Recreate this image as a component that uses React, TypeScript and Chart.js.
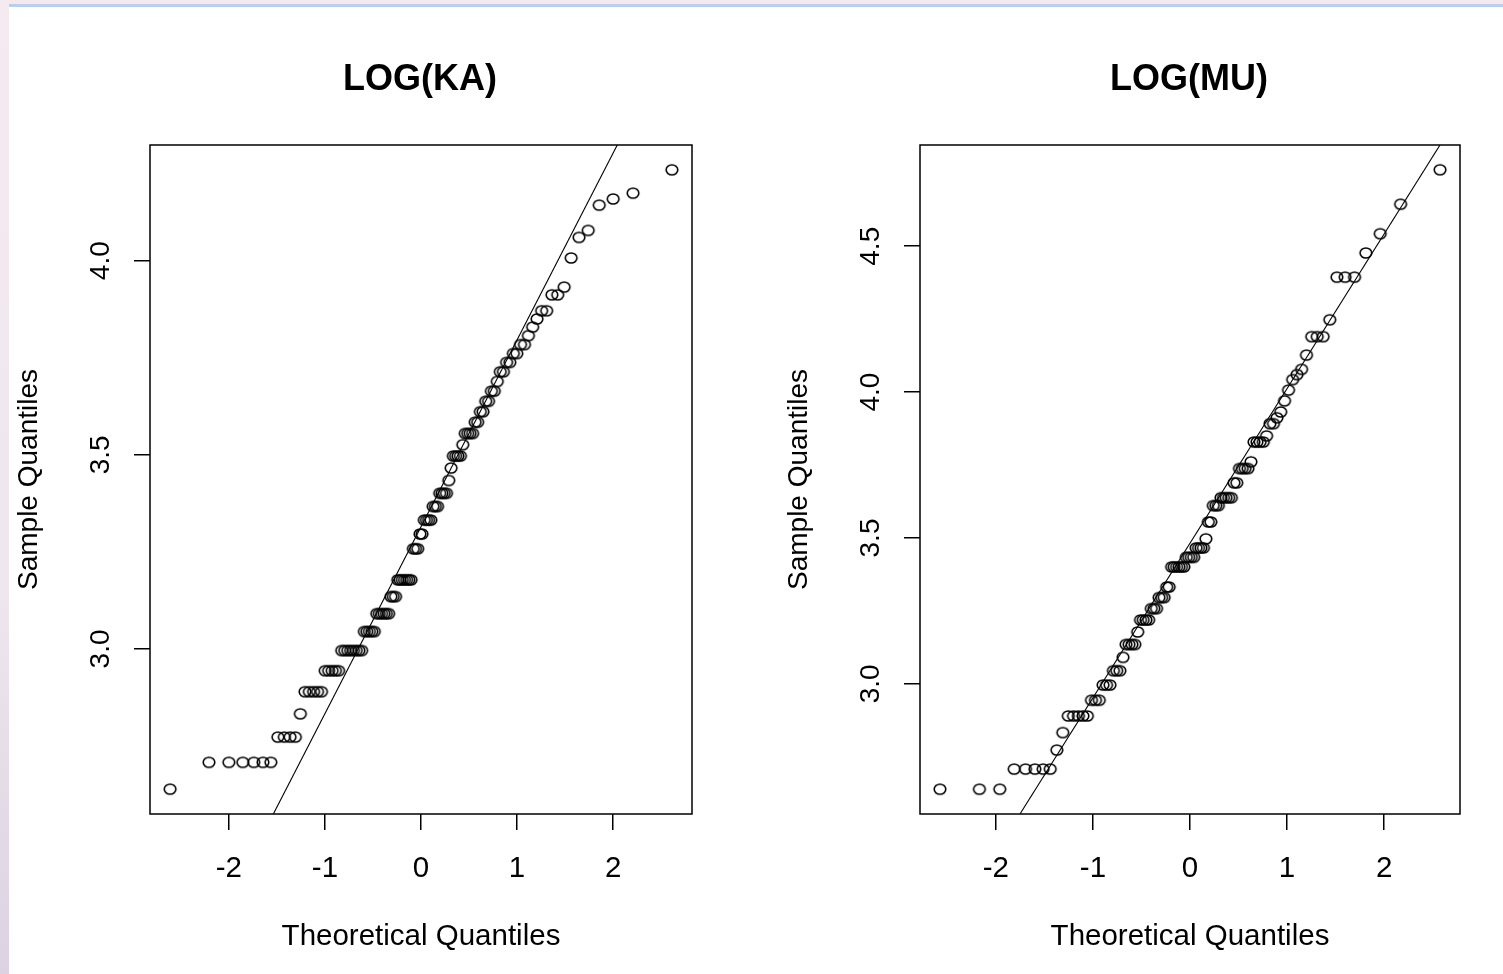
import { useEffect, useRef } from "react";
import { Chart, registerables } from "chart.js";

Chart.register(...registerables);

// ---------- LOG(KA) : normal QQ plot, n = 110 ----------
const kaTheoretical = [
  -2.612, -2.207, -2.0, -1.855, -1.741, -1.645, -1.563, -1.49, -1.423, -1.363,
  -1.308, -1.256, -1.208, -1.162, -1.118, -1.077, -1.036, -0.998, -0.961, -0.925,
  -0.891, -0.858, -0.825, -0.794, -0.763, -0.733, -0.703, -0.674, -0.646, -0.618,
  -0.59, -0.564, -0.537, -0.511, -0.486, -0.46, -0.435, -0.41, -0.385, -0.361,
  -0.337, -0.313, -0.289, -0.265, -0.242, -0.218, -0.195, -0.172, -0.149, -0.126,
  -0.103, -0.08, -0.057, -0.034, -0.011, 0.011, 0.034, 0.057, 0.08, 0.103,
  0.126, 0.149, 0.172, 0.195, 0.218, 0.242, 0.265, 0.289, 0.313, 0.337,
  0.361, 0.385, 0.41, 0.435, 0.46, 0.486, 0.511, 0.537, 0.564, 0.59,
  0.618, 0.646, 0.674, 0.703, 0.733, 0.763, 0.794, 0.825, 0.858, 0.891,
  0.925, 0.961, 0.998, 1.036, 1.077, 1.118, 1.162, 1.208, 1.256, 1.308,
  1.363, 1.423, 1.49, 1.563, 1.645, 1.741, 1.855, 2.0, 2.207, 2.612,
];
const kaSample = [
  2.639,
  2.708, 2.708, 2.708, 2.708, 2.708, 2.708,
  2.773, 2.773, 2.773, 2.773,
  2.833,
  2.89, 2.89, 2.89, 2.89, 2.89,
  2.944, 2.944, 2.944, 2.944, 2.944,
  2.996, 2.996, 2.996, 2.996, 2.996, 2.996, 2.996, 2.996,
  3.045, 3.045, 3.045, 3.045, 3.045,
  3.091, 3.091, 3.091, 3.091, 3.091, 3.091,
  3.135, 3.135, 3.135,
  3.178, 3.178, 3.178, 3.178, 3.178, 3.178, 3.178,
  3.258, 3.258, 3.258,
  3.296, 3.296,
  3.332, 3.332, 3.332, 3.332,
  3.367, 3.367, 3.367,
  3.401, 3.401, 3.401, 3.401,
  3.434,
  3.466,
  3.497, 3.497, 3.497, 3.497,
  3.526,
  3.555, 3.555, 3.555, 3.555,
  3.584, 3.584,
  3.611, 3.611,
  3.638, 3.638,
  3.664, 3.664,
  3.689,
  3.714, 3.714,
  3.738, 3.738,
  3.761, 3.761,
  3.784, 3.784,
  3.807,
  3.829,
  3.85,
  3.871, 3.871,
  3.912, 3.912,
  3.932,
  4.007, 4.06, 4.078, 4.143, 4.159, 4.174, 4.234,
];
// reference line: where it crosses the bottom and top of the box
const kaLineX = [-1.537, 2.043];
const kaLineY = [2.575, 4.298];
const kaXRange = [-2.821, 2.821];
const kaYRange = [2.575, 4.298];
const kaXTicks = [-2, -1, 0, 1, 2];
const kaYTicks = [3.0, 3.5, 4.0];

// ---------- LOG(MU) : normal QQ plot, n = 100 ----------
const muTheoretical = [
  -2.576, -2.17, -1.96, -1.812, -1.695, -1.598, -1.514, -1.44, -1.372, -1.311,
  -1.254, -1.2, -1.15, -1.103, -1.058, -1.015, -0.974, -0.935, -0.896, -0.86,
  -0.824, -0.789, -0.755, -0.722, -0.69, -0.659, -0.628, -0.598, -0.568, -0.539,
  -0.51, -0.482, -0.454, -0.426, -0.399, -0.372, -0.345, -0.319, -0.292, -0.266,
  -0.24, -0.215, -0.189, -0.164, -0.138, -0.113, -0.088, -0.063, -0.038, -0.013,
  0.013, 0.038, 0.063, 0.088, 0.113, 0.138, 0.164, 0.189, 0.215, 0.24,
  0.266, 0.292, 0.319, 0.345, 0.372, 0.399, 0.426, 0.454, 0.482, 0.51,
  0.539, 0.568, 0.598, 0.628, 0.659, 0.69, 0.722, 0.755, 0.789, 0.824,
  0.86, 0.896, 0.935, 0.974, 1.015, 1.058, 1.103, 1.15, 1.2, 1.254,
  1.311, 1.372, 1.44, 1.514, 1.598, 1.695, 1.812, 1.96, 2.17, 2.576,
];
const muSample = [
  2.639, 2.639, 2.639,
  2.708, 2.708, 2.708, 2.708, 2.708,
  2.773,
  2.833,
  2.89, 2.89, 2.89, 2.89, 2.89,
  2.944, 2.944, 2.944,
  2.996, 2.996, 2.996,
  3.045, 3.045, 3.045,
  3.091,
  3.135, 3.135, 3.135, 3.135,
  3.178,
  3.219, 3.219, 3.219, 3.219,
  3.258, 3.258, 3.258,
  3.296, 3.296, 3.296,
  3.332, 3.332,
  3.401, 3.401, 3.401, 3.401, 3.401, 3.401,
  3.434, 3.434, 3.434, 3.434,
  3.466, 3.466, 3.466, 3.466,
  3.497,
  3.555, 3.555,
  3.611, 3.611, 3.611,
  3.638, 3.638, 3.638, 3.638, 3.638,
  3.689, 3.689,
  3.738, 3.738, 3.738, 3.738,
  3.761,
  3.829, 3.829, 3.829, 3.829,
  3.85,
  3.892, 3.892,
  3.912,
  3.932,
  3.97,
  4.007,
  4.043,
  4.06,
  4.078,
  4.127,
  4.19, 4.19, 4.19,
  4.248,
  4.394, 4.394, 4.394,
  4.477,
  4.543,
  4.644,
  4.762,
];
const muLineX = [-1.752, 2.576];
const muLineY = [2.554, 4.847];
const muXRange = [-2.782, 2.782];
const muYRange = [2.554, 4.847];
const muXTicks = [-2, -1, 0, 1, 2];
const muYTicks = [3.0, 3.5, 4.0, 4.5];

const FONT = '"Liberation Sans", Arial, Helvetica, sans-serif';

// open circle marker, slightly wider than tall like the reference
function makeMarker(): HTMLCanvasElement {
  const c = document.createElement("canvas");
  c.width = 16;
  c.height = 14;
  const g = c.getContext("2d")!;
  g.strokeStyle = "#000";
  g.lineWidth = 1.6;
  g.beginPath();
  g.ellipse(8, 7, 5.8, 5.0, 0, 0, Math.PI * 2);
  g.stroke();
  return c;
}

const rPlotPlugin = {
  id: "rplot",
  afterDraw(chart: any, _args: any, opts: any) {
    const { ctx, chartArea: a, scales } = chart;
    ctx.save();
    ctx.strokeStyle = "#000";
    ctx.lineWidth = 1.5;
    ctx.strokeRect(a.left, a.top, a.right - a.left, a.bottom - a.top);
    ctx.fillStyle = "#000";
    ctx.textAlign = "center";
    ctx.textBaseline = "middle";
    const cx = (a.left + a.right) / 2;
    const cy = (a.top + a.bottom) / 2;
    ctx.font = `bold 36px ${FONT}`;
    ctx.fillText(opts.title, cx - 1, a.top - 65);
    ctx.font = `29.5px ${FONT}`;
    (opts.xTicks as number[]).forEach((v) => {
      ctx.fillText(String(v), scales.x.getPixelForValue(v), a.bottom + 55);
    });
    ctx.fillText("Theoretical Quantiles", cx, a.bottom + 123);
    ctx.font = `28px ${FONT}`;
    (opts.yTicks as number[]).forEach((v) => {
      const y = scales.y.getPixelForValue(v);
      ctx.save();
      ctx.translate(a.left - 49, y);
      ctx.rotate(-Math.PI / 2);
      ctx.fillText(v.toFixed(1), 0, 0);
      ctx.restore();
    });
    ctx.save();
    ctx.translate(a.left - 121, cy);
    ctx.rotate(-Math.PI / 2);
    ctx.fillText("Sample Quantiles", 0, 0);
    ctx.restore();
    ctx.restore();
  },
};

type PanelProps = {
  title: string;
  tq: number[];
  sq: number[];
  lineX: number[];
  lineY: number[];
  xRange: number[];
  yRange: number[];
  xTicks: number[];
  yTicks: number[];
  width: number;
  padRight: number;
  left: number;
};

function QQPanel(p: PanelProps) {
  const ref = useRef<HTMLCanvasElement | null>(null);
  useEffect(() => {
    if (!ref.current) return;
    const marker = makeMarker();
    const pts = p.tq.map((x, i) => ({ x, y: p.sq[i] }));
    const linePts = p.lineX.map((x, i) => ({ x, y: p.lineY[i] }));
    const chart = new Chart(ref.current, {
      type: "scatter",
      data: {
        datasets: [
          {
            data: linePts,
            showLine: true,
            borderColor: "#000",
            borderWidth: 1.1,
            pointRadius: 0,
            fill: false,
          } as any,
          {
            data: pts,
            pointStyle: marker,
            pointRadius: 6,
            showLine: false,
          } as any,
        ],
      },
      options: {
        animation: false,
        responsive: false,
        devicePixelRatio: 1,
        layout: { padding: { left: 0, top: 145, right: p.padRight, bottom: 0 } },
        plugins: {
          legend: { display: false },
          tooltip: { enabled: false },
          rplot: { title: p.title, xTicks: p.xTicks, yTicks: p.yTicks },
        } as any,
        scales: {
          x: {
            type: "linear",
            min: p.xRange[0],
            max: p.xRange[1],
            afterBuildTicks: (s: any) => {
              s.ticks = p.xTicks.map((v) => ({ value: v }));
            },
            afterFit: (s: any) => {
              s.height = 160;
            },
            ticks: { display: false },
            grid: {
              drawOnChartArea: false,
              drawTicks: true,
              tickLength: 16,
              color: "#000",
              lineWidth: 1.5,
            },
            border: { display: false },
          },
          y: {
            type: "linear",
            min: p.yRange[0],
            max: p.yRange[1],
            afterBuildTicks: (s: any) => {
              s.ticks = p.yTicks.map((v) => ({ value: v }));
            },
            afterFit: (s: any) => {
              s.width = 150;
            },
            ticks: { display: false },
            grid: {
              drawOnChartArea: false,
              drawTicks: true,
              tickLength: 16,
              color: "#000",
              lineWidth: 1.5,
            },
            border: { display: false },
          },
        },
      },
      plugins: [rPlotPlugin],
    });
    return () => chart.destroy();
  }, []);
  return (
    <canvas
      ref={ref}
      width={p.width}
      height={974}
      style={{ position: "absolute", left: p.left, top: 0, width: p.width, height: 974 }}
    />
  );
}

export default function App() {
  return (
    <div
      style={{
        position: "absolute",
        left: 0,
        top: 0,
        width: 1503,
        height: 974,
        overflow: "hidden",
        background: "#ffffff",
      }}
    >
      <div style={{ position: "absolute", left: 0, top: 0, width: 1503, height: 4, background: "#f4e9ee" }} />
      <div style={{ position: "absolute", left: 9, top: 4, width: 1494, height: 3, background: "#b9cff0" }} />
      <div
        style={{
          position: "absolute",
          left: 0,
          top: 0,
          width: 9,
          height: 974,
          background: "linear-gradient(to bottom, #f5eaef 0%, #efe6ee 60%, #dcd2e2 100%)",
        }}
      />
      <QQPanel
        title="LOG(KA)"
        tq={kaTheoretical}
        sq={kaSample}
        lineX={kaLineX}
        lineY={kaLineY}
        xRange={kaXRange}
        yRange={kaYRange}
        xTicks={kaXTicks}
        yTicks={kaYTicks}
        width={770}
        padRight={78}
        left={0}
      />
      <QQPanel
        title="LOG(MU)"
        tq={muTheoretical}
        sq={muSample}
        lineX={muLineX}
        lineY={muLineY}
        xRange={muXRange}
        yRange={muYRange}
        xTicks={muXTicks}
        yTicks={muYTicks}
        width={733}
        padRight={43}
        left={770}
      />
    </div>
  );
}
